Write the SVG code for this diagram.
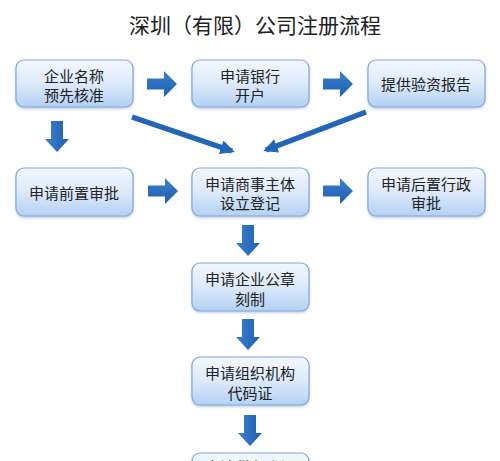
<svg xmlns="http://www.w3.org/2000/svg" width="500" height="461" viewBox="0 0 500 461">
<defs>
<linearGradient id="bg" x1="0" y1="0" x2="0" y2="1">
<stop offset="0" stop-color="#f4f8fe"/>
<stop offset="0.5" stop-color="#dce9fa"/>
<stop offset="1" stop-color="#b3d0f3"/>
</linearGradient>
<linearGradient id="ah" x1="0" y1="0" x2="0" y2="1">
<stop offset="0" stop-color="#3a80cf"/>
<stop offset="1" stop-color="#1f5fae"/>
</linearGradient>
<linearGradient id="av" x1="0" y1="0" x2="1" y2="0">
<stop offset="0" stop-color="#3a80cf"/>
<stop offset="1" stop-color="#1f5fae"/>
</linearGradient>
<filter id="sh" x="-10%" y="-10%" width="120%" height="130%">
<feDropShadow dx="0" dy="1.5" stdDeviation="1.2" flood-color="#7890b0" flood-opacity="0.45"/>
</filter>
<path id="ra" d="M0,-5.5 H17 V-13 L30,0 L17,13 V5.5 H0 Z"/>
<path id="da" d="M-6,0 H6 V18 H12 L0,31 L-12,18 H-6 Z"/>
<marker id="mk" viewBox="0 0 10 10" refX="8" refY="5" markerWidth="2.6" markerHeight="2.6" orient="auto" markerUnits="strokeWidth">
<path d="M0,0 L10,5 L0,10 Z" fill="#2266b8"/>
</marker>
</defs>
<style>
.box{fill:url(#bg);stroke:#7ea8dd;stroke-width:1.2;filter:url(#sh)}
.t{font-family:"Noto Sans CJK SC","Noto Sans CJK JP",sans-serif;font-size:15px;fill:#222;text-anchor:middle;dominant-baseline:central}
.title{font-family:"Noto Sans CJK SC","Noto Sans CJK JP",sans-serif;font-size:21px;fill:#222;text-anchor:middle}
.h{fill:url(#ah)}
.v{fill:url(#av)}
.dg{stroke:#2266b8;stroke-width:5.5;fill:none;marker-end:url(#mk)}
</style>
<rect width="500" height="461" fill="#ffffff"/>
<text class="title" x="255" y="33">深圳（有限）公司注册流程</text>

<g id="connectors">
<use href="#ra" class="h" x="147" y="84"/>
<use href="#ra" class="h" x="323" y="84"/>
<use href="#ra" class="h" x="148" y="191"/>
<use href="#ra" class="h" x="323" y="191"/>
<use href="#da" class="v" x="57" y="121"/>
<use href="#da" class="v" x="248" y="225"/>
<use href="#da" class="v" x="248" y="319"/>
<use href="#da" class="v" x="250" y="415"/>
<line class="dg" x1="132" y1="117" x2="232" y2="151"/>
<line class="dg" x1="366" y1="112" x2="266" y2="150"/>
</g>

<g id="n1"><rect class="box" x="16" y="60" width="117" height="47" rx="8"/><text class="t" x="74" y="75">企业名称</text><text class="t" x="74" y="94">预先核准</text></g>
<g id="n2"><rect class="box" x="192" y="60" width="117" height="47" rx="8"/><text class="t" x="250" y="75">申请银行</text><text class="t" x="250" y="94">开户</text></g>
<g id="n3"><rect class="box" x="368" y="60" width="117" height="47" rx="8"/><text class="t" x="426" y="83">提供验资报告</text></g>
<g id="n4"><rect class="box" x="16" y="168" width="117" height="48" rx="8"/><text class="t" x="74" y="192">申请前置审批</text></g>
<g id="n5"><rect class="box" x="192" y="168" width="117" height="48" rx="8"/><text class="t" x="250" y="183">申请商事主体</text><text class="t" x="250" y="202">设立登记</text></g>
<g id="n6"><rect class="box" x="368" y="168" width="117" height="48" rx="8"/><text class="t" x="426" y="183">申请后置行政</text><text class="t" x="426" y="202">审批</text></g>
<g id="n7"><rect class="box" x="192" y="263" width="117" height="48" rx="8"/><text class="t" x="250" y="278">申请企业公章</text><text class="t" x="250" y="298">刻制</text></g>
<g id="n8"><rect class="box" x="192" y="357" width="117" height="48" rx="8"/><text class="t" x="250" y="372">申请组织机构</text><text class="t" x="250" y="392">代码证</text></g>
<g id="n9"><rect class="box" x="192" y="453" width="117" height="48" rx="8"/><text class="t" x="250" y="466">申请税务登记</text></g>
</svg>
